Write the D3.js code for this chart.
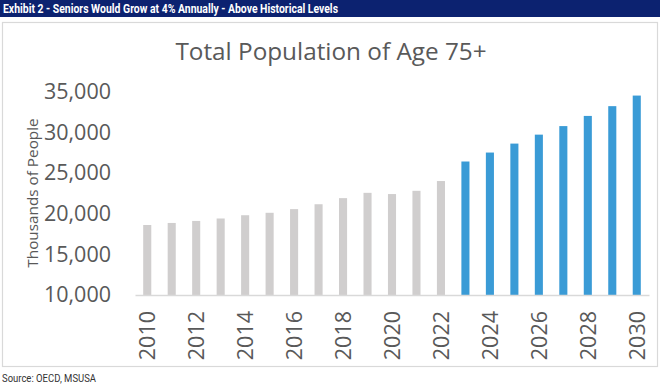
<!DOCTYPE html>
<html>
<head>
<meta charset="utf-8">
<script src="https://cdn.jsdelivr.net/npm/d3@7"></script>
<style>
  body { margin: 0; background: #fff; }
  svg { display: block; }
</style>
</head>
<body>
<svg id="chart" width="660" height="386"></svg>
<script>
// data (thousands of people, age 75+)
const years = d3.range(2010, 2031);
const population = [18600, 18850, 19100, 19400, 19800, 20100, 20550, 21150, 21900, 22550,
                    22400, 22800, 24000, 26400, 27500, 28600, 29700, 30750, 32000, 33200, 34500];
const firstForecast = 2023;
const yTicks = [10000, 15000, 20000, 25000, 30000, 35000];
const xTickYears = d3.range(2010, 2031, 2);

const svg = d3.select("#chart");
const W = 660, H = 386;

// header bar
svg.append("rect").attr("x", 0).attr("y", 0).attr("width", W).attr("height", 17)
  .attr("fill", "#0c2270");
svg.append("text")
  .attr("x", 3).attr("y", 13)
  .attr("textLength", 335).attr("lengthAdjust", "spacingAndGlyphs")
  .style("font-family", "Roboto, 'Liberation Sans', sans-serif")
  .style("font-weight", "bold").style("font-size", "12.5px")
  .attr("fill", "#fff")
  .text("Exhibit 2 - Seniors Would Grow at 4% Annually - Above Historical Levels");

// chart frame
svg.append("rect").attr("x", 2.5).attr("y", 22.5).attr("width", 655).attr("height", 344)
  .attr("fill", "#fff").attr("stroke", "#d9d9d9").attr("stroke-width", 1.2);

// title
svg.append("text")
  .attr("x", 331).attr("y", 60)
  .attr("text-anchor", "middle")
  .style("font-family", "'Open Sans', sans-serif")
  .style("font-size", "24.3px")
  .attr("fill", "#595959")
  .text("Total Population of Age 75+");

const x = d3.scaleBand()
  .domain(years)
  .range([135, 649])
  .paddingInner(0.67)
  .paddingOuter(0.335);

const y = d3.scaleLinear()
  .domain([10000, 35000])
  .range([295, 91.5]);

// y axis
const yAxis = svg.append("g")
  .attr("transform", "translate(135,0)")
  .call(d3.axisLeft(y).tickValues(yTicks).tickFormat(d3.format(",")).tickSize(0).tickPadding(24));
yAxis.select(".domain").remove();
yAxis.selectAll("text")
  .style("font-family", "'Open Sans', sans-serif")
  .style("font-size", "21.5px")
  .attr("fill", "#595959");

// bars
svg.selectAll(".bar")
  .data(years)
  .enter()
  .append("rect")
  .attr("class", "bar")
  .attr("x", d => x(d))
  .attr("y", (d, i) => y(population[i]))
  .attr("width", x.bandwidth())
  .attr("height", (d, i) => y(10000) - y(population[i]))
  .attr("fill", d => d >= firstForecast ? "#3a9bd6" : "#d0cece");

// x axis
const xAxis = svg.append("g")
  .attr("transform", "translate(0," + y(10000) + ")")
  .call(d3.axisBottom(x).tickValues(xTickYears).tickSize(0).tickSizeOuter(0));
xAxis.select(".domain").attr("stroke", "#d9d9d9").attr("stroke-width", 1.5);
xAxis.selectAll("text")
  .attr("transform", "rotate(-90)")
  .attr("x", -16).attr("y", 0).attr("dy", "0.36em")
  .style("text-anchor", "end")
  .style("font-family", "'Open Sans', sans-serif")
  .style("font-size", "21.5px")
  .attr("fill", "#595959");

// y axis title
svg.append("text")
  .attr("transform", "translate(38,193) rotate(-90)")
  .attr("text-anchor", "middle")
  .style("font-family", "'Open Sans', sans-serif")
  .style("font-size", "15.3px")
  .attr("fill", "#595959")
  .text("Thousands of People");

// source
svg.append("text")
  .attr("x", 2).attr("y", 382)
  .attr("textLength", 94).attr("lengthAdjust", "spacingAndGlyphs")
  .style("font-family", "Roboto, sans-serif")
  .style("font-size", "11px")
  .attr("fill", "#333")
  .text("Source: OECD, MSUSA");
</script>
</body>
</html>
